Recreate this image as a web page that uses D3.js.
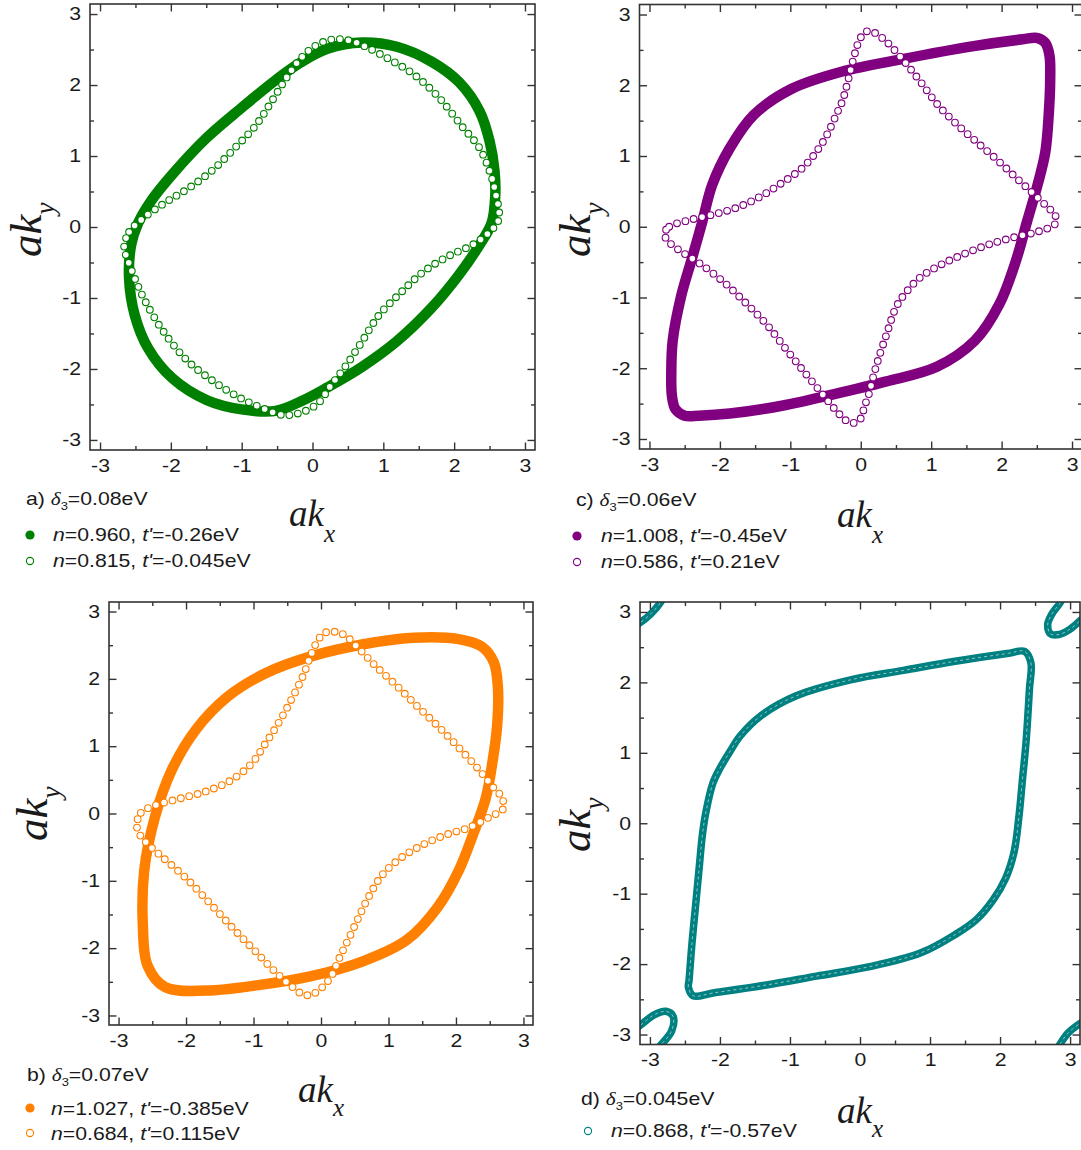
<!DOCTYPE html>
<html>
<head>
<meta charset="utf-8">
<script src="https://cdnjs.cloudflare.com/ajax/libs/d3/7.8.5/d3.min.js"></script>
<style>
  body { margin: 0; background: #fff; }
  svg { display: block; }
</style>
</head>
<body>
<div id="chart"></div>
<script>
// tick labels shared by every panel
const tickValues = [-3, -2, -1, 0, 1, 2, 3];
const minorTickValues = [-2.5, -1.5, -0.5, 0.5, 1.5, 2.5];

// a) delta3 = 0.08 eV
const aFilled = [[-2.46, 0.06], [-2.27, 0.38], [-1.98, 0.74], [-1.49, 1.26], [-1.0, 1.68], [-0.52, 2.07], [-0.18, 2.31], [0.21, 2.51], [0.70, 2.60], [1.19, 2.54], [1.68, 2.33], [2.07, 2.04], [2.36, 1.63], [2.50, 1.21], [2.57, 0.79], [2.58, 0.43], [2.53, 0.06], [2.36, -0.25], [2.07, -0.67], [1.68, -1.14], [1.19, -1.61], [0.70, -1.97], [0.21, -2.26], [-0.13, -2.44], [-0.52, -2.59], [-1.0, -2.57], [-1.49, -2.44], [-1.98, -2.13], [-2.32, -1.71], [-2.51, -1.24], [-2.59, -0.72], [-2.56, -0.25]];
const aOpen = [[-2.66, -0.29], [-2.59, -0.07], [-2.37, 0.14], [-2.07, 0.35], [-1.73, 0.56], [-1.39, 0.82], [-1.10, 1.11], [-0.81, 1.42], [-0.57, 1.78], [-0.37, 2.10], [-0.18, 2.36], [0.02, 2.54], [0.26, 2.64], [0.51, 2.63], [0.75, 2.54], [1.09, 2.36], [1.43, 2.15], [1.77, 1.84], [2.11, 1.42], [2.36, 1.11], [2.50, 0.79], [2.58, 0.50], [2.63, 0.11], [2.50, -0.07], [2.26, -0.25], [1.92, -0.41], [1.58, -0.62], [1.24, -0.93], [0.94, -1.24], [0.70, -1.61], [0.46, -1.97], [0.26, -2.23], [0.07, -2.49], [-0.18, -2.62], [-0.42, -2.65], [-0.66, -2.57], [-1.0, -2.42], [-1.39, -2.18], [-1.78, -1.87], [-2.12, -1.45], [-2.37, -1.03], [-2.51, -0.72], [-2.61, -0.46]];

// c) delta3 = 0.06 eV
const cFilled = [[2.30, 2.65], [2.50, 2.67], [2.62, 2.60], [2.68, 2.42], [2.69, 2.10], [2.67, 1.60], [2.62, 1.05], [2.51, 0.59], [2.36, 0.07], [2.21, -0.46], [1.97, -1.09], [1.62, -1.61], [1.08, -1.98], [0.35, -2.19], [-0.39, -2.37], [-1.12, -2.53], [-1.86, -2.64], [-2.30, -2.67], [-2.50, -2.67], [-2.63, -2.58], [-2.68, -2.40], [-2.69, -2.05], [-2.67, -1.61], [-2.55, -0.98], [-2.40, -0.46], [-2.25, 0.07], [-2.11, 0.59], [-1.86, 1.11], [-1.52, 1.58], [-0.98, 1.95], [-0.24, 2.20], [0.59, 2.37], [1.58, 2.55]];
const cOpen = [[-2.79, -0.10], [-2.72, 0.0], [-2.45, 0.09], [-2.11, 0.17], [-1.76, 0.27], [-1.42, 0.43], [-1.12, 0.62], [-0.83, 0.83], [-0.63, 1.06], [-0.48, 1.30], [-0.34, 1.60], [-0.26, 1.78], [-0.20, 1.99], [-0.08, 2.46], [-0.01, 2.66], [0.08, 2.76], [0.18, 2.75], [0.35, 2.63], [0.59, 2.37], [0.84, 2.06], [1.08, 1.74], [1.33, 1.48], [1.62, 1.22], [1.92, 0.96], [2.21, 0.69], [2.46, 0.46], [2.66, 0.27], [2.76, 0.17], [2.76, 0.04], [2.51, -0.07], [2.21, -0.14], [1.82, -0.25], [1.48, -0.38], [1.13, -0.54], [0.84, -0.72], [0.64, -0.93], [0.50, -1.14], [0.37, -1.51], [0.25, -1.87], [0.18, -2.11], [0.12, -2.35], [0.05, -2.55], [0.0, -2.71], [-0.08, -2.77], [-0.19, -2.75], [-0.34, -2.61], [-0.54, -2.37], [-0.78, -2.08], [-1.03, -1.77], [-1.32, -1.40], [-1.62, -1.09], [-1.96, -0.77], [-2.30, -0.51], [-2.55, -0.35], [-2.72, -0.22]];

// b) delta3 = 0.07 eV
const bFilled = [[1.37, 2.61], [2.04, 2.59], [2.38, 2.48], [2.56, 2.25], [2.62, 1.90], [2.61, 1.30], [2.54, 0.76], [2.44, 0.22], [2.25, -0.32], [2.04, -0.85], [1.73, -1.39], [1.27, -1.88], [0.61, -2.20], [-0.16, -2.42], [-0.93, -2.55], [-1.70, -2.63], [-2.31, -2.58], [-2.57, -2.26], [-2.64, -1.66], [-2.62, -0.85], [-2.46, -0.05], [-2.21, 0.65], [-1.85, 1.25], [-1.39, 1.73], [-0.83, 2.08], [-0.16, 2.33], [0.61, 2.51]];
const bOpen = [[-2.73, -0.18], [-2.67, 0.01], [-2.46, 0.12], [-2.10, 0.22], [-1.70, 0.33], [-1.34, 0.49], [-1.03, 0.74], [-0.83, 1.03], [-0.62, 1.36], [-0.42, 1.73], [-0.26, 2.06], [-0.14, 2.38], [-0.03, 2.60], [0.07, 2.69], [0.20, 2.70], [0.35, 2.65], [0.55, 2.46], [0.81, 2.19], [1.12, 1.90], [1.42, 1.60], [1.73, 1.30], [2.04, 0.98], [2.34, 0.65], [2.55, 0.39], [2.68, 0.24], [2.70, 0.07], [2.50, -0.05], [2.19, -0.21], [1.84, -0.32], [1.48, -0.48], [1.17, -0.67], [0.91, -0.91], [0.71, -1.23], [0.55, -1.56], [0.40, -1.88], [0.27, -2.15], [0.15, -2.42], [0.02, -2.58], [-0.14, -2.69], [-0.26, -2.69], [-0.42, -2.58], [-0.67, -2.36], [-0.98, -2.04], [-1.29, -1.72], [-1.64, -1.34], [-2.00, -0.96], [-2.36, -0.64], [-2.57, -0.45], [-2.67, -0.34]];

// d) delta3 = 0.045 eV, main contour and the pockets cut by the zone edge
const dMain = [[2.35, 2.44], [2.44, 2.28], [2.42, 1.91], [2.37, 1.14], [2.32, 0.62], [2.27, 0.10], [2.20, -0.41], [2.08, -0.78], [1.90, -1.09], [1.66, -1.37], [1.36, -1.58], [0.87, -1.84], [0.12, -2.04], [-0.62, -2.17], [-1.36, -2.30], [-2.10, -2.41], [-2.38, -2.45], [-2.45, -2.33], [-2.44, -2.22], [-2.40, -1.71], [-2.35, -1.19], [-2.30, -0.67], [-2.25, -0.16], [-2.20, 0.16], [-2.10, 0.57], [-2.00, 0.78], [-1.85, 1.03], [-1.71, 1.24], [-1.41, 1.53], [-0.91, 1.81], [-0.12, 2.04], [0.62, 2.17], [1.36, 2.30], [2.10, 2.41]];
const dPocketTR = [[2.92, 3.30], [2.87, 3.15], [2.74, 2.97], [2.68, 2.82], [2.72, 2.69], [2.84, 2.68], [2.99, 2.75], [3.16, 2.89], [3.28, 2.98]];
const dPocketTL = [[-3.28, 2.78], [-3.14, 2.85], [-2.99, 2.97], [-2.84, 3.15], [-2.78, 3.28]];
const dPocketBL = [[-3.28, -2.95], [-3.14, -2.87], [-2.94, -2.72], [-2.77, -2.67], [-2.67, -2.74], [-2.69, -2.95], [-2.87, -3.18], [-2.95, -3.30]];
const dPocketBR = [[2.76, -3.28], [2.84, -3.16], [2.97, -2.98], [3.16, -2.83], [3.28, -2.76]];

// legend texts
const panelTags = ["a)", "c)", "b)", "d)"];
const delta3Values = ["0.08", "0.06", "0.07", "0.045"];
const nValues = [["0.960", "0.815"], ["1.008", "0.586"], ["1.027", "0.684"], ["0.868"]];
const tValues = [["-0.26", "-0.045"], ["-0.45", "0.21"], ["-0.385", "0.115"], ["-0.57"]];

const W = 1081, H = 1150;
const SX = 1.18; // text in the figure is a little wider than Arial
const SANS = "Liberation Sans, Arial, sans-serif";
const SERIF = "Liberation Serif, Times New Roman, serif";
const INK = "#1a1a1a";

const svg = d3.select("#chart").append("svg")
  .attr("width", W).attr("height", H)
  .attr("font-family", SANS);

const panels = [
  {box: [90, 4, 535, 450], color: "#008000", filled: aFilled, open: aOpen,
   head: [26, 505], rows: [[30, 535, 53, 541], [30, 561, 53, 567]],
   xt: [289, 526, 16], yt: [41, 257]},
  {box: [639.5, 4.5, 1082, 449], color: "#800080", filled: cFilled, open: cOpen,
   head: [576, 506], rows: [[577, 536, 601, 542], [577, 562, 601, 568]],
   xt: [837, 527, 16], yt: [590, 257]},
  {box: [109, 602, 533, 1025], color: "#ff8000", filled: bFilled, open: bOpen,
   head: [27, 1081], rows: [[30, 1108, 51, 1115], [30, 1133, 51, 1140]],
   xt: [298, 1102, 14], yt: [47, 841]},
  {box: [640, 602, 1080, 1044.5], color: "#008080", band: dMain,
   pockets: [dPocketTR, dPocketTL, dPocketBL, dPocketBR],
   head: [581, 1105], rows: [[588, 1131, 611, 1137]],
   xt: [837, 1123, 14], yt: [590, 852]}
];

panels.forEach((p, i) => {
  const [x0, y0, x1, y1] = p.box;
  const x = d3.scaleLinear().domain([-Math.PI, Math.PI]).range([x0, x1]);
  const y = d3.scaleLinear().domain([-Math.PI, Math.PI]).range([y1, y0]);

  const clipId = "clip" + i;
  svg.append("clipPath").attr("id", clipId)
    .append("rect").attr("x", x0).attr("y", y0)
    .attr("width", x1 - x0).attr("height", y1 - y0);

  const g = svg.append("g").attr("clip-path", `url(#${clipId})`);

  const closed = d3.line().x(d => x(d[0])).y(d => y(d[1]))
    .curve(d3.curveCatmullRomClosed.alpha(0.5));
  const open = d3.line().x(d => x(d[0])).y(d => y(d[1]))
    .curve(d3.curveCatmullRom.alpha(0.5));

  if (p.filled) {
    g.append("path")
      .attr("d", closed(p.filled))
      .attr("fill", "none")
      .attr("stroke", p.color)
      .attr("stroke-width", 10.5)
      .attr("stroke-linejoin", "round");

    // open circles: a coloured dot row with a white dot row on top
    [[7.8, p.color], [5.6, "#fff"]].forEach(([w, c]) => {
      g.append("path")
        .attr("d", closed(p.open))
        .attr("fill", "none")
        .attr("stroke", c)
        .attr("stroke-width", w)
        .attr("stroke-linecap", "round")
        .attr("stroke-dasharray", "0 8.6");
    });
  }

  if (p.band) {
    const paths = [closed(p.band)].concat(p.pockets.map(open));
    paths.forEach(d => {
      g.append("path").attr("d", d)
        .attr("fill", "none").attr("stroke", p.color)
        .attr("stroke-width", 7.5).attr("stroke-linejoin", "round");
      g.append("path").attr("d", d)
        .attr("fill", "none").attr("stroke", "#fff")
        .attr("stroke-width", 1).attr("stroke-opacity", 0.55)
        .attr("stroke-dasharray", "3 3");
    });
  }

  // axes, ticks pointing inward on all four sides
  const fmt = d => String(d);
  const axes = [
    [d3.axisBottom(x), `translate(0,${y1})`, true],
    [d3.axisLeft(y), `translate(${x0},0)`, true],
    [d3.axisTop(x), `translate(0,${y0})`, false],
    [d3.axisRight(y), `translate(${x1},0)`, false]
  ];
  axes.forEach(([ax, tr, labels]) => {
    const major = svg.append("g").attr("transform", tr)
      .call(ax.tickValues(tickValues).tickSizeInner(-7.5).tickSizeOuter(0)
        .tickPadding(labels ? 9 : 0).tickFormat(labels ? fmt : ""));
    major.attr("font-family", SANS).attr("font-size", 18);
    major.select(".domain").remove();
    major.selectAll("line").attr("stroke", "#333").attr("stroke-width", 1.4);
    major.selectAll("text").attr("fill", INK).each(function () {
      const t = d3.select(this);
      const tx = +t.attr("x") || 0;
      t.attr("transform", `translate(${tx},0) scale(${SX},1) translate(${-tx},0)`);
    });

    const minor = svg.append("g").attr("transform", tr)
      .call(ax.tickValues(minorTickValues).tickSizeInner(-4).tickFormat(""));
    minor.select(".domain").remove();
    minor.selectAll("line").attr("stroke", "#333").attr("stroke-width", 1.4);
  });

  svg.append("rect")
    .attr("x", x0).attr("y", y0)
    .attr("width", x1 - x0).attr("height", y1 - y0)
    .attr("fill", "none").attr("stroke", "#333").attr("stroke-width", 1.6);

  // axis titles
  const xt = svg.append("text")
    .attr("x", p.xt[0]).attr("y", p.xt[1])
    .attr("font-family", SERIF).attr("fill", INK)
    .attr("font-style", "italic").attr("font-size", 37);
  xt.append("tspan").text("ak");
  xt.append("tspan").attr("font-size", 25).attr("dy", p.xt[2]).text("x");

  const yt = svg.append("text")
    .attr("transform", `translate(${p.yt[0]},${p.yt[1]}) rotate(-90)`)
    .attr("font-family", SERIF).attr("fill", INK)
    .attr("font-style", "italic").attr("font-size", 45);
  yt.append("tspan").text("ak");
  yt.append("tspan").attr("font-size", 27).attr("dy", 13).text("y");

  // legend
  const head = svg.append("text")
    .attr("transform", `translate(${p.head[0]},${p.head[1]}) scale(${SX},1)`)
    .attr("font-size", 18).attr("fill", INK);
  head.append("tspan").text(panelTags[i] + " ");
  head.append("tspan").attr("font-family", SERIF)
    .attr("font-style", "italic").text("δ");
  head.append("tspan").attr("font-size", 11).attr("dy", 5).text("3");
  head.append("tspan").attr("dy", -5).text("=" + delta3Values[i] + "eV");

  p.rows.forEach((r, k) => {
    const isFilled = p.filled && k === 0;
    svg.append("circle")
      .attr("cx", r[0]).attr("cy", r[1])
      .attr("r", isFilled ? 4.6 : 3.6)
      .attr("fill", isFilled ? p.color : "#fff")
      .attr("stroke", p.color).attr("stroke-width", isFilled ? 0 : 1.1);
    const t = svg.append("text")
      .attr("transform", `translate(${r[2]},${r[3]}) scale(${SX},1)`)
      .attr("font-size", 18).attr("fill", INK);
    t.append("tspan").attr("font-style", "italic").text("n");
    t.append("tspan").text("=" + nValues[i][k] + ", ");
    t.append("tspan").attr("font-style", "italic").text("t'");
    t.append("tspan").text("=" + tValues[i][k] + "eV");
  });
});
</script>
</body>
</html>
